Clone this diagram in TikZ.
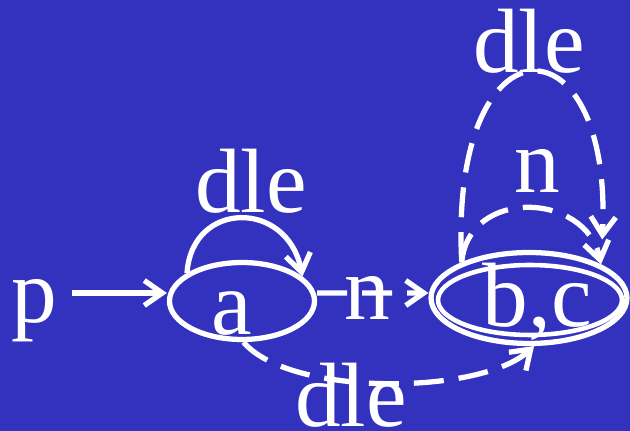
\documentclass[tikz,border=0pt]{standalone}
\usepackage{fontspec}
\setmainfont{Liberation Serif}
\usetikzlibrary{arrows.meta, shapes.geometric}
\definecolor{Slide}{RGB}{50,50,190}
\definecolor{Ink}{HTML}{FFFFFF}
\newcommand{\offsettext}[3]{\raisebox{#2}[0pt][0pt]{\makebox[0pt]{\hspace{#1}#3}}}
\tikzset{
    statenode/.style={ellipse, draw=Ink, line width=3pt, inner sep=0pt, text=Ink, font=\fontsize{52}{60}\selectfont},
    lbl/.style={text=Ink, inner sep=0pt, font=\fontsize{52}{60}\selectfont},
    arrow/.style={-{Straight Barb[length=0.36cm, width=0.5cm]}, line width=3pt, color=Ink},
    dasharrow/.style={arrow, dash pattern=on 0.6cm off 0.3cm},
}

\begin{document}
\begin{tikzpicture}[x=0.02cm, y=-0.02cm]
    % Sfondo
    \fill[Slide] (0,0) rectangle (630,431);
    \useasboundingbox (0,0) rectangle (630,431);

    % --- STATI ---
    \node[statenode, minimum width=2.9cm, minimum height=1.54cm] (a) at (242,301) {\offsettext{-0.42cm}{-0.68cm}{a}};
    \node[statenode, minimum width=3.92cm, minimum height=1.82cm] (bc) at (529,298) {\offsettext{0.34cm}{-0.58cm}{b,c}};
    \draw[Ink, line width=2.6pt] ([shift={(1,2)}]bc.center) ellipse (1.84cm and 0.7cm);

    % Ingresso
    \node[lbl, anchor=base, text height=1.2cm, text depth=0pt] (p) at (34,323) {p};
    \draw[arrow, shorten <=0.3cm] (p) -- (a.west |- p);

    % a -> a
    \draw[arrow] (a.153) .. controls +(5,-73) and +(-15,-77) .. (a.22);
    \node[lbl, anchor=base] (aloop) at (251,213) {dle};

    % a -> {b,c}
    \draw[dasharrow] ([yshift=0.16cm]a.east) -- ([yshift=0.1cm]bc.west)
        node[lbl, pos=0.45, yshift=-0.1cm] (an) {n};
    \draw[dasharrow] (a.-88) .. controls +(47,55) and +(-53,49) .. (bc.-84);
    \node[lbl, anchor=base] (adle) at (351,427) {dle};

    % {b,c} -> {b,c}
    \draw[dasharrow] (bc.152) .. controls +(7,-75) and +(-15,-72) .. (bc.25);
    \node[lbl, anchor=base] (bcn) at (537,193) {n};
    \draw[dasharrow, shorten >=0.5cm] (bc.152) .. controls +(-13,-250) and +(12,-252) .. (bc.25);
    \node[lbl, anchor=base] (bcdle) at (529,73) {dle};
\end{tikzpicture}
\end{document}
